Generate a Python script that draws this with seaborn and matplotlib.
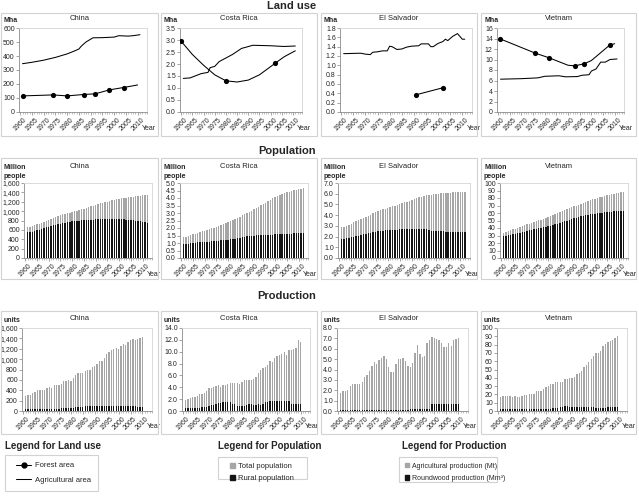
import numpy as np
import matplotlib.pyplot as plt
from matplotlib.lines import Line2D
from matplotlib.patches import Patch, Rectangle
from matplotlib.ticker import FuncFormatter, MultipleLocator
import seaborn as sns

sns.set_theme(style="white")
plt.rcParams['font.family'] = ['Liberation Sans', 'DejaVu Sans']

W, H = 639, 496
GREY = '#a6a6a6'
DARK = '#141414'

# ------------------------------------------------------------------
# Land use (Mha)
# ------------------------------------------------------------------
cn_agri_years = [1961, 1965, 1970, 1975, 1980, 1983, 1985, 1986, 1988, 1991, 1995, 2000, 2002, 2006, 2008, 2011]
cn_agri = [345, 355, 370, 390, 415, 435, 450, 470, 500, 530, 531, 535, 545, 542, 545, 552]
cn_forest_years = [1961, 1974, 1980, 1987, 1992, 1998, 2004, 2010]
cn_forest = [115, 122, 115, 125, 130, 158, 175, 193]
cn_forest_mark = [1, 1, 1, 1, 1, 1, 1, 0]

cr_agri_years = [1961, 1964, 1969, 1972, 1973, 1975, 1977, 1983, 1987, 1989, 1992, 2000, 2006, 2011]
cr_agri = [1.4, 1.42, 1.6, 1.65, 1.85, 1.9, 2.1, 2.4, 2.65, 2.7, 2.78, 2.76, 2.73, 2.75]
cr_forest_years = [1960, 1965, 1970, 1975, 1980, 1985, 1990, 1995, 2002, 2006, 2011]
cr_forest = [2.95, 2.4, 1.95, 1.55, 1.3, 1.25, 1.33, 1.55, 2.03, 2.3, 2.55]
cr_forest_mark = [1, 0, 0, 0, 1, 0, 0, 0, 1, 0, 0]

es_agri_years = [1961, 1968, 1970, 1972, 1973, 1975, 1977, 1979, 1980, 1981,
                 1983, 1985, 1987, 1989, 1992, 1993, 1996, 1997, 1998, 2000,
                 2002, 2003, 2004, 2006, 2008, 2009, 2010, 2011]
es_agri = [1.25, 1.26, 1.24, 1.23, 1.28, 1.29, 1.31, 1.31, 1.41, 1.40,
           1.34, 1.35, 1.39, 1.41, 1.42, 1.46, 1.46, 1.40, 1.40, 1.47,
           1.51, 1.56, 1.53, 1.62, 1.68, 1.62, 1.56, 1.56]
es_forest_years = [1991, 2002]
es_forest = [0.37, 0.52]
es_forest_mark = [1, 1]

vn_agri_years = [1961, 1970, 1977, 1980, 1986, 1989, 1994, 1996, 1999, 2000, 2002, 2004, 2006, 2008, 2011]
vn_agri = [6.25, 6.35, 6.5, 6.8, 6.9, 6.7, 6.75, 7.0, 7.1, 7.8, 8.2, 9.5, 9.5, 10.0, 10.1]
vn_forest_years = [1961, 1976, 1982, 1990, 1993, 1997, 2000, 2004, 2008, 2010]
vn_forest = [13.9, 11.2, 10.3, 8.9, 8.8, 9.2, 9.8, 11.3, 12.8, 13.0]
vn_forest_mark = [1, 1, 1, 0, 1, 1, 0, 0, 1, 0]

# ------------------------------------------------------------------
# Population (million people), 1961-2012
# ------------------------------------------------------------------
pop_years = list(range(1961, 2013))
cn_total = [660, 666, 682, 698, 715, 735, 754, 775, 796, 818,
            841, 862, 882, 900, 916, 931, 943, 956, 969, 981,
            994, 1009, 1023, 1037, 1051, 1067, 1084, 1102, 1119, 1135,
            1150, 1165, 1178, 1192, 1205, 1218, 1230, 1242, 1253, 1263,
            1272, 1280, 1288, 1296, 1304, 1311, 1318, 1325, 1331, 1338,
            1344, 1351]
cn_rural = [548, 555, 565, 578, 592, 608, 625, 642, 660, 672,
            685, 698, 710, 722, 732, 742, 752, 760, 770, 780,
            788, 795, 800, 803, 806, 810, 813, 816, 820, 823,
            826, 828, 830, 832, 833, 833, 832, 831, 830, 828,
            825, 822, 818, 814, 810, 804, 798, 790, 782, 774,
            766, 755]
cr_total = [1.38, 1.43, 1.48, 1.53, 1.58, 1.63, 1.68, 1.73, 1.78, 1.83,
            1.87, 1.92, 1.97, 2.02, 2.07, 2.13, 2.19, 2.25, 2.31, 2.38,
            2.45, 2.52, 2.6, 2.68, 2.76, 2.84, 2.92, 3.0, 3.08, 3.16,
            3.25, 3.34, 3.43, 3.52, 3.61, 3.7, 3.79, 3.88, 3.97, 4.05,
            4.12, 4.19, 4.25, 4.31, 4.37, 4.42, 4.47, 4.51, 4.55, 4.58,
            4.61, 4.64]
cr_rural = [0.92, 0.94, 0.96, 0.98, 1.0, 1.02, 1.04, 1.06, 1.07, 1.08,
            1.09, 1.1, 1.11, 1.12, 1.13, 1.15, 1.17, 1.19, 1.21, 1.23,
            1.25, 1.28, 1.3, 1.33, 1.36, 1.39, 1.42, 1.45, 1.47, 1.49,
            1.5, 1.51, 1.52, 1.52, 1.53, 1.53, 1.54, 1.55, 1.56, 1.57,
            1.58, 1.59, 1.6, 1.61, 1.62, 1.63, 1.63, 1.64, 1.64, 1.65,
            1.65, 1.66]
es_total = [2.85, 2.94, 3.03, 3.12, 3.22, 3.32, 3.42, 3.52, 3.62, 3.72,
            3.83, 3.94, 4.05, 4.16, 4.26, 4.36, 4.45, 4.54, 4.62, 4.7,
            4.77, 4.84, 4.9, 4.97, 5.04, 5.11, 5.19, 5.27, 5.35, 5.43,
            5.51, 5.59, 5.66, 5.73, 5.79, 5.84, 5.88, 5.91, 5.94, 5.97,
            6.0, 6.03, 6.05, 6.07, 6.09, 6.1, 6.12, 6.14, 6.15, 6.17,
            6.18, 6.2]
es_rural = [1.75, 1.8, 1.85, 1.9, 1.95, 2.0, 2.05, 2.1, 2.15, 2.2,
            2.25, 2.3, 2.35, 2.4, 2.44, 2.48, 2.52, 2.55, 2.58, 2.6,
            2.62, 2.64, 2.65, 2.66, 2.67, 2.68, 2.69, 2.7, 2.71, 2.72,
            2.73, 2.74, 2.75, 2.75, 2.74, 2.7, 2.6, 2.55, 2.52, 2.5,
            2.49, 2.48, 2.48, 2.47, 2.46, 2.45, 2.44, 2.43, 2.42, 2.41,
            2.4, 2.4]
vn_total = [34.0, 35.0, 36.0, 37.0, 38.1, 39.2, 40.3, 41.4, 42.5, 43.6,
            44.7, 45.8, 46.9, 48.0, 49.1, 50.2, 51.3, 52.4, 53.5, 54.6,
            55.8, 57.0, 58.3, 59.6, 60.9, 62.2, 63.5, 64.8, 66.1, 67.4,
            68.7, 70.0, 71.3, 72.5, 73.7, 74.9, 76.0, 77.1, 78.1, 79.1,
            80.0, 80.9, 81.8, 82.6, 83.4, 84.2, 85.0, 85.8, 86.5, 87.2,
            87.9, 88.6]
vn_rural = [29.0, 29.7, 30.4, 31.1, 31.8, 32.5, 33.2, 33.9, 34.6, 35.3,
            36.0, 36.7, 37.4, 38.1, 38.8, 39.5, 40.2, 40.9, 41.6, 42.3,
            43.1, 44.0, 45.0, 46.0, 47.0, 48.0, 49.0, 50.0, 51.0, 52.0,
            53.0, 53.9, 54.7, 55.5, 56.2, 56.9, 57.5, 58.1, 58.6, 59.1,
            59.6, 60.0, 60.4, 60.8, 61.2, 61.6, 61.9, 62.2, 62.5, 62.8,
            63.0, 63.2]

# ------------------------------------------------------------------
# Production: agricultural (Mt) and roundwood (Mm3), 1961-2010
# ------------------------------------------------------------------
prod_years = list(range(1961, 2011))
cn_agprod = [295, 305, 315, 340, 370, 405, 405, 400, 410, 450,
             455, 445, 505, 510, 510, 515, 570, 585, 590, 580,
             640, 700, 740, 730, 740, 780, 785, 800, 855, 870,
             900, 955, 965, 1030, 1100, 1130, 1170, 1195, 1205, 1200,
             1250, 1300, 1280, 1335, 1370, 1380, 1360, 1385, 1400, 1420]
cn_wood = [30, 30, 30, 30, 30, 30, 30, 30, 30, 30,
           32, 32, 33, 35, 38, 55, 62, 62, 65, 65,
           65, 68, 72, 75, 80, 88, 90, 92, 90, 90,
           88, 90, 92, 95, 100, 102, 105, 105, 100, 95,
           92, 90, 92, 90, 88, 88, 88, 86, 86, 85]
cr_agprod = [1.9, 2.0, 2.2, 2.3, 2.4, 2.6, 2.8, 2.9, 3.1, 3.3,
             3.8, 3.9, 4.1, 4.3, 4.4, 4.1, 4.4, 4.4, 4.6, 4.7,
             4.8, 4.7, 4.7, 4.6, 4.9, 5.3, 5.2, 5.2, 5.2, 5.4,
             5.7, 6.4, 6.9, 7.3, 7.4, 7.7, 8.4, 8.3, 8.9, 9.3,
             9.5, 9.6, 10.0, 9.5, 10.3, 10.3, 10.5, 10.6, 12.0, 11.6]
cr_wood = [0.5, 0.5, 0.5, 0.5, 0.5, 0.5, 0.55, 0.6, 0.7, 0.7,
           0.9, 1.0, 1.0, 1.2, 1.3, 1.4, 1.5, 1.5, 1.5, 1.5,
           1.2, 1.2, 0.9, 0.8, 0.9, 0.9, 1.0, 1.2, 1.1, 1.0,
           1.0, 1.1, 1.0, 1.1, 1.6, 1.6, 1.7, 1.7, 1.7, 1.7,
           1.7, 1.7, 1.7, 1.7, 1.7, 1.1, 1.2, 1.2, 1.2, 1.2]
es_agprod = [1.7, 1.95, 1.95, 2.0, 2.4, 2.6, 2.6, 2.6, 2.6, 2.8,
             3.3, 3.5, 3.9, 4.3, 4.7, 4.5, 4.9, 5.1, 5.3, 5.0,
             4.2, 3.8, 3.8, 4.5, 5.0, 5.0, 5.1, 4.8, 4.3, 4.2,
             4.6, 5.6, 6.4, 5.5, 5.2, 5.3, 6.6, 6.8, 7.1, 7.0,
             6.9, 6.8, 6.6, 6.2, 6.2, 6.6, 6.3, 6.8, 6.9, 7.0]
es_wood = [0.08, 0.08, 0.08, 0.08, 0.08, 0.08, 0.08, 0.08, 0.08, 0.08,
           0.08, 0.08, 0.08, 0.08, 0.08, 0.08, 0.08, 0.08, 0.08, 0.08,
           0.08, 0.08, 0.08, 0.08, 0.1, 0.1, 0.1, 0.1, 0.1, 0.15,
           0.15, 0.15, 0.15, 0.15, 0.15, 0.15, 0.18, 0.2, 0.65, 0.65,
           0.7, 0.7, 0.7, 0.7, 0.7, 0.7, 0.7, 0.7, 0.7, 0.7]
vn_agprod = [17, 18, 18, 18.5, 18, 17, 17.5, 16.5, 17, 18,
             19, 19.5, 20, 20, 20, 23.5, 24, 24, 27, 29,
             30, 32, 33, 35, 34.5, 35, 35.5, 38, 39, 39.5,
             40, 41, 44, 46, 48, 53, 56, 59, 63, 66,
             70, 70, 72, 78, 81, 83, 84, 86, 88, 90]
vn_wood = [2, 2, 2, 2, 2, 2, 2, 2, 2, 2,
           2, 2, 2, 2.2, 2.2, 2.5, 2.5, 2.8, 3, 3,
           3, 3, 3.2, 3.5, 4, 4.5, 5, 5.5, 5.5, 5.2,
           5, 5, 5, 5, 4.8, 4.8, 5, 5, 4.8, 4.5,
           4, 4, 4, 4, 4.2, 4.5, 4.5, 5, 5, 5]

countries = ['China', 'Costa Rica', 'El Salvador', 'Vietnam']
year_ticks = list(range(1960, 2011, 5))

# ==================================================================
fig = plt.figure(figsize=(W / 100, H / 100), dpi=100)


def axes_px(x0, y0, x1, y1):
    return fig.add_axes([x0 / W, 1 - y1 / H, (x1 - x0) / W, (y1 - y0) / H])


def box_px(x0, y0, x1, y1, color='#d2d2d2'):
    fig.patches.append(Rectangle((x0 / W, 1 - y1 / H), (x1 - x0) / W, (y1 - y0) / H,
                                 transform=fig.transFigure, fill=False,
                                 ec=color, lw=0.8))


def text_px(x, y, s, **kw):
    fig.text(x / W, 1 - y / H, s, **kw)


def style(ax, ymax, ystep, fmt):
    ax.set_xlim(1959.5, 2014)
    ax.set_ylim(0, ymax)
    ax.yaxis.set_major_locator(MultipleLocator(ystep))
    ax.yaxis.set_major_formatter(FuncFormatter(lambda v, p: fmt.format(v)))
    ax.set_xticks(year_ticks)
    ax.set_xticklabels([str(y) for y in year_ticks], rotation=45, ha='center')
    ax.xaxis.set_minor_locator(MultipleLocator(1))
    ax.tick_params(axis='both', which='major', length=2, width=0.5,
                   color='#808080', labelsize=5, pad=1, left=True, bottom=True)
    ax.tick_params(axis='x', which='minor', length=1.2, width=0.4,
                   color='#909090', bottom=True)
    for s in ['left', 'bottom']:
        ax.spines[s].set_color('#8c8c8c')
        ax.spines[s].set_linewidth(0.6)
    for s in ['top', 'right']:
        ax.spines[s].set_color('#d4d4d4')
        ax.spines[s].set_linewidth(0.6)
    ax.set_xlabel('')
    ax.set_ylabel('')
    ax.annotate('Year', xy=(1, 0), xycoords='axes fraction', xytext=(-5, -16),
                textcoords='offset pixels', ha='left', va='center', fontsize=5)


box_x = [(1, 158), (161, 317), (321, 477), (481, 636)]

# ---------------- Row 1: land use ----------------
land = [
    (cn_agri_years, cn_agri, cn_forest_years, cn_forest, cn_forest_mark, 600, 100, '{:.0f}'),
    (cr_agri_years, cr_agri, cr_forest_years, cr_forest, cr_forest_mark, 3.5, 0.5, '{:.1f}'),
    (es_agri_years, es_agri, es_forest_years, es_forest, es_forest_mark, 1.8, 0.2, '{:.1f}'),
    (vn_agri_years, vn_agri, vn_forest_years, vn_forest, vn_forest_mark, 16, 2, '{:.0f}'),
]
land_ax = [(19, 28, 147, 112), (180, 28, 302, 112), (340, 28, 472, 112), (497, 28, 624, 112)]
text_px(316, 6, 'Land use', ha='right', va='center', fontsize=8, weight='bold')
for i, (ay, av, fy, fv, fm, ymax, ystep, fmt) in enumerate(land):
    bx0, bx1 = box_x[i]
    box_px(bx0, 13, bx1, 136)
    ax = axes_px(*land_ax[i])
    sns.lineplot(x=ay, y=av, color='black', lw=0.75, ax=ax)
    sns.lineplot(x=fy, y=fv, color='black', lw=0.75, ax=ax)
    my = [y for y, m in zip(fy, fm) if m]
    mv = [v for v, m in zip(fv, fm) if m]
    sns.scatterplot(x=my, y=mv, color='black', s=14, linewidth=0, ax=ax, zorder=3)
    style(ax, ymax, ystep, fmt)
    text_px((bx0 + bx1) / 2, 19, countries[i], ha='center', va='center', fontsize=5.5)
    text_px(bx0 + 3, 20, 'Mha', ha='left', va='center', fontsize=5, weight='bold')

# ---------------- Row 2: population ----------------
pop = [
    (cn_total, cn_rural, 1600, 200, '{:,.0f}'),
    (cr_total, cr_rural, 5.0, 0.5, '{:.1f}'),
    (es_total, es_rural, 7.0, 1.0, '{:.1f}'),
    (vn_total, vn_rural, 100, 10, '{:.0f}'),
]
pop_ax = [(24, 183, 152, 258), (180, 183, 308, 258), (338, 183, 470, 258), (500, 183, 628, 258)]
text_px(316, 151, 'Population', ha='right', va='center', fontsize=8, weight='bold')
for i, (tot, rur, ymax, ystep, fmt) in enumerate(pop):
    bx0, bx1 = box_x[i]
    box_px(bx0, 158, bx1, 279)
    ax = axes_px(*pop_ax[i])
    sns.barplot(x=pop_years, y=tot, native_scale=True, color=GREY, width=0.6,
                saturation=1, linewidth=0, errorbar=None, ax=ax)
    sns.barplot(x=pop_years, y=rur, native_scale=True, color=DARK, width=0.6,
                saturation=1, linewidth=0, errorbar=None, ax=ax)
    style(ax, ymax, ystep, fmt)
    text_px((bx0 + bx1) / 2, 166, countries[i], ha='center', va='center', fontsize=5.5)
    text_px(bx0 + 3, 172, 'Million\npeople', ha='left', va='center', fontsize=5,
            weight='bold', linespacing=1.3)

# ---------------- Row 3: production ----------------
prod = [
    (cn_agprod, cn_wood, 1600, 200, '{:,.0f}'),
    (cr_agprod, cr_wood, 14.0, 2.0, '{:.1f}'),
    (es_agprod, es_wood, 8.0, 1.0, '{:.1f}'),
    (vn_agprod, vn_wood, 100, 10, '{:.0f}'),
]
prod_ax = [(22, 328, 152, 411), (182, 328, 310, 411), (337, 328, 468, 411), (497, 328, 627, 411)]
text_px(316, 296, 'Production', ha='right', va='center', fontsize=8, weight='bold')
for i, (ag, wd, ymax, ystep, fmt) in enumerate(prod):
    bx0, bx1 = box_x[i]
    box_px(bx0, 311, bx1, 434)
    ax = axes_px(*prod_ax[i])
    sns.barplot(x=prod_years, y=ag, native_scale=True, color=GREY, width=0.55,
                saturation=1, linewidth=0, errorbar=None, ax=ax)
    sns.barplot(x=prod_years, y=wd, native_scale=True, color=DARK, width=0.55,
                saturation=1, linewidth=0, errorbar=None, ax=ax)
    style(ax, ymax, ystep, fmt)
    text_px((bx0 + bx1) / 2, 319, countries[i], ha='center', va='center', fontsize=5.5)
    text_px(bx0 + 3, 321, 'units', ha='left', va='center', fontsize=5, weight='bold')

# ---------------- Legends ----------------
text_px(5, 446, 'Legend for Land use', ha='left', va='center', fontsize=7, weight='bold')
text_px(218, 446, 'Legend for Population', ha='left', va='center', fontsize=7, weight='bold')
text_px(402, 446, 'Legend for Production', ha='left', va='center', fontsize=7, weight='bold')

box_px(5, 455, 98, 491)
box_px(218, 457, 307, 479)
box_px(399, 457, 497, 482)

land_handles = [Line2D([], [], color='black', lw=0.75, marker='o', markersize=3.5),
                Line2D([], [], color='black', lw=0.75)]
fig.legend(land_handles, ['Forest area', 'Agricultural area'], loc='upper left',
           bbox_to_anchor=(10 / W, 1 - 456 / H), frameon=False, fontsize=5.5,
           handlelength=2.0, handletextpad=0.5, labelspacing=0.9, borderpad=0.3)

pop_handles = [Patch(color=GREY), Patch(color=DARK)]
fig.legend(pop_handles, ['Total population', 'Rural population'], loc='upper left',
           bbox_to_anchor=(224 / W, 1 - 457 / H), frameon=False, fontsize=5.5,
           handlelength=0.6, handleheight=0.6, handletextpad=0.4,
           labelspacing=0.6, borderpad=0.3)

prod_handles = [Patch(color=GREY), Patch(color=DARK)]
fig.legend(prod_handles, ['Agricultural production (Mt)', 'Roundwood production (Mm³)'],
           loc='upper left', bbox_to_anchor=(399 / W, 1 - 457 / H), frameon=False,
           fontsize=5, handlelength=0.6, handleheight=0.6, handletextpad=0.4,
           labelspacing=0.8, borderpad=0.3)

plt.savefig('out.png', dpi=100)
plt.close()
